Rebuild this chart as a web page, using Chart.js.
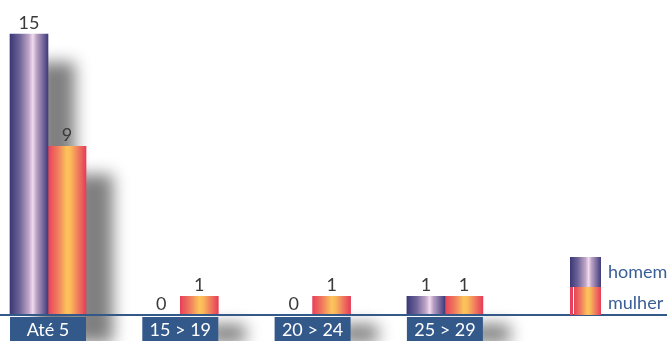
<!DOCTYPE html>
<html>
<head>
<meta charset="utf-8">
<script src="https://cdn.jsdelivr.net/npm/chart.js@4/dist/chart.umd.min.js"></script>
<style>
  body { margin: 0; background: #fff; }
  #wrap { width: 667px; height: 341px; position: relative; }
</style>
</head>
<body>
<div id="wrap"><canvas id="myChart"></canvas></div>
<script>
// data
let categories = ["Até 5", "15 > 19", "20 > 24", "25 > 29"];
let homem = [15, 0, 0, 1];
let mulher = [9, 1, 1, 1];
let seriesNames = ["homem", "mulher"];

let axisBlue = "#33598b";
let fontStr = "18px Lato, 'Open Sans', sans-serif";

function gradHomem(ctx, left, w) {
  let g = ctx.createLinearGradient(left, 0, left + w, 0);
  g.addColorStop(0, "#3b3876");
  g.addColorStop(0.25, "#6d6398");
  g.addColorStop(0.5, "#c2a6c8");
  g.addColorStop(0.6, "#f0dcee");
  g.addColorStop(0.7, "#bba0c4");
  g.addColorStop(1, "#3f3c7b");
  return g;
}
function gradMulher(ctx, left, w) {
  let g = ctx.createLinearGradient(left, 0, left + w, 0);
  g.addColorStop(0, "#e8415a");
  g.addColorStop(0.25, "#f07a5e");
  g.addColorStop(0.5, "#fcc45a");
  g.addColorStop(0.6, "#fbb85a");
  g.addColorStop(0.8, "#ef7a5e");
  g.addColorStop(1, "#e63c57");
  return g;
}

function barFill(which) {
  return function (c) {
    let chart = c.chart;
    if (!chart.chartArea) return which == 0 ? "#5a4f8a" : "#f08a5a";
    let cx = chart.scales.x.getPixelForValue(c.dataIndex);
    let left = which == 0 ? cx - 38 : cx;
    return which == 0 ? gradHomem(chart.ctx, left, 38) : gradMulher(chart.ctx, left, 38);
  };
}

// shadows behind the bars
let shadowPlugin = {
  id: "shadows",
  beforeDatasetsDraw(chart) {
    let ctx = chart.ctx;
    ctx.save();
    ctx.filter = "blur(8px)";
    ctx.fillStyle = "rgba(0,0,0,0.5)";
    chart.data.datasets.forEach((ds, i) => {
      chart.getDatasetMeta(i).data.forEach((el) => {
        let h = el.base - el.y;
        if (h <= 0) return;
        ctx.fillRect(el.x - el.width / 2 + 27, el.y + 28, el.width, h);
      });
    });
    ctx.restore();
  },
};

// axis line, label boxes, value labels and legend
let decoPlugin = {
  id: "deco",
  afterDatasetsDraw(chart) {
    let ctx = chart.ctx;
    let xs = chart.scales.x;
    let base = chart.chartArea.bottom;
    ctx.save();
    ctx.fillStyle = axisBlue;
    ctx.fillRect(0, base - 1, chart.width, 2);

    categories.forEach((c, i) => {
      let cx = xs.getPixelForValue(i);
      ctx.fillStyle = axisBlue;
      ctx.fillRect(cx - 38, base + 2, 76, chart.height - base - 2);
      ctx.fillStyle = "#ffffff";
      ctx.font = fontStr;
      ctx.textAlign = "center";
      ctx.textBaseline = "middle";
      ctx.fillText(c, cx, base + 15);
    });

    ctx.fillStyle = "#3a3a3a";
    ctx.font = fontStr;
    ctx.textAlign = "center";
    ctx.textBaseline = "alphabetic";
    chart.data.datasets.forEach((ds, i) => {
      chart.getDatasetMeta(i).data.forEach((el, j) => {
        ctx.fillText(String(ds.data[j].y), el.x, el.y - 5);
      });
    });

    // legend
    let lx = 570, lw = 31;
    ctx.fillStyle = gradHomem(ctx, lx, lw);
    ctx.fillRect(lx, 257, lw, 30);
    ctx.fillStyle = "#e8415a";
    ctx.fillRect(lx, 287, 3, base - 287);
    ctx.fillStyle = gradMulher(ctx, lx + 4, lw - 4);
    ctx.fillRect(lx + 4, 287, lw - 4, base - 287);
    ctx.fillStyle = "#3a5f95";
    ctx.textAlign = "left";
    ctx.fillText(seriesNames[0], 608, 278);
    ctx.fillText(seriesNames[1], 608, 309);
    ctx.restore();
  },
};

let pxPerCat = 132.3;
let firstCenter = 48;
let xMin = -firstCenter / pxPerCat;
let xMax = xMin + 667 / pxPerCat;
let yMax = 315 / (281 / 15);

let mychart = document.getElementById("myChart").getContext("2d");
let barChart = new Chart(mychart, {
  type: "bar",
  data: {
    datasets: [
      {
        label: seriesNames[0],
        data: homem.map((v, i) => ({ x: i, y: v })),
        backgroundColor: barFill(0),
        barThickness: 38,
      },
      {
        label: seriesNames[1],
        data: mulher.map((v, i) => ({ x: i, y: v })),
        backgroundColor: barFill(1),
        barThickness: 38,
      },
    ],
  },
  options: {
    responsive: true,
    maintainAspectRatio: false,
    animation: false,
    layout: { padding: 0 },
    plugins: { legend: { display: false }, tooltip: { enabled: false } },
    scales: {
      x: {
        type: "linear",
        offset: false,
        min: xMin,
        max: xMax,
        grid: { display: false, drawTicks: false },
        border: { display: false },
        ticks: { display: false },
        afterFit(scale) { scale.height = 26; },
      },
      y: {
        display: false,
        min: 0,
        max: yMax,
      },
    },
  },
  plugins: [shadowPlugin, decoPlugin],
});
</script>
</body>
</html>
